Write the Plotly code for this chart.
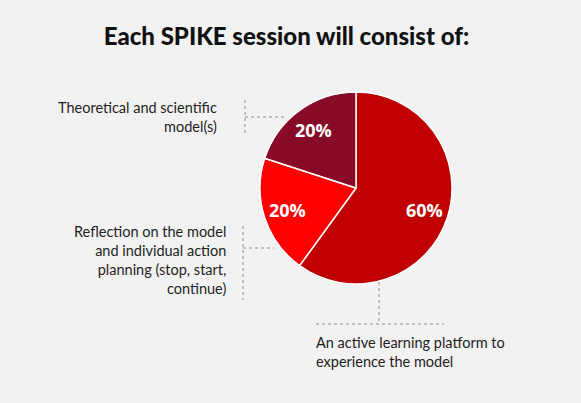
import math
import plotly.graph_objects as go

W, H = 581, 403

shares = [60, 20, 20]
slice_names = ["An active learning platform to experience the model",
               "Reflection on the model and individual action planning",
               "Theoretical and scientific model(s)"]
slice_colors = ["#C00000", "#FF0000", "#870A27"]

title = "Each SPIKE session will consist of:"
label_lines = [
    ["Theoretical and scientific", "model(s)"],
    ["Reflection on the model", "and individual action", "planning (stop, start,", "continue)"],
    ["An active learning platform to", "experience the model"],
]

def px(x):
    return x / W

def py(y):
    return 1 - y / H

# pie placement (pixels)
cx, cy, r = 356, 188, 96

fig = go.Figure()
fig.add_trace(go.Pie(
    values=shares,
    labels=slice_names,
    sort=False,
    direction="clockwise",
    rotation=0,
    marker=dict(colors=slice_colors, line=dict(color="white", width=1.5)),
    textinfo="none",
    hoverinfo="label+percent",
    showlegend=False,
    domain=dict(x=[px(cx - r), px(cx + r)], y=[py(cy + r), py(cy - r)]),
))

# percentage labels at each slice's mid angle
total = sum(shares)
start = 0
for v in shares:
    mid = (start + v / 2) / total * 2 * math.pi
    start += v
    tx = cx + 0.75 * r * math.sin(mid)
    ty = cy - 0.75 * r * math.cos(mid)
    fig.add_annotation(x=px(tx), y=py(ty), xref="paper", yref="paper",
                       text=f"{v}%", showarrow=False,
                       xanchor="center", yanchor="middle",
                       font=dict(family="Open Sans", size=18, color="white", weight="bold"))

# dotted leader lines
dot = dict(color="#8c8c8c", width=1, dash="dot")
leaders = [
    (245, 100, 245, 136), (245, 117, 284, 117),
    (243, 226, 243, 300), (243, 248, 274, 248),
    (379, 282, 379, 323), (316, 324, 444, 324),
]
for x0, y0, x1, y1 in leaders:
    fig.add_shape(type="line", xref="paper", yref="paper",
                  x0=px(x0), y0=py(y0), x1=px(x1), y1=py(y1), line=dot)

lab_font = dict(family="Lato", size=14.5, color="#1e1e1e")
fig.add_annotation(x=px(219), y=py(97), xref="paper", yref="paper",
                   text="<br>".join(label_lines[0]), showarrow=False,
                   xanchor="right", yanchor="top", align="right", font=lab_font)
fig.add_annotation(x=px(228), y=py(221), xref="paper", yref="paper",
                   text="<br>".join(label_lines[1]), showarrow=False,
                   xanchor="right", yanchor="top", align="right", font=lab_font)
fig.add_annotation(x=px(314), y=py(332), xref="paper", yref="paper",
                   text="<br>".join(label_lines[2]), showarrow=False,
                   xanchor="left", yanchor="top", align="left", font=lab_font)

fig.update_layout(
    width=W, height=H,
    margin=dict(l=0, r=0, t=0, b=0),
    paper_bgcolor="#F2F2F2",
    plot_bgcolor="#F2F2F2",
    title=dict(text=title, x=0.493, xanchor="center", y=py(37), yanchor="middle",
               font=dict(family="Lato", size=24, color="#111111", weight=900)),
)

fig.write_html("out.html", config={"displayModeBar": False},
               post_script="document.body.style.margin='0';document.body.style.overflow='hidden';")
